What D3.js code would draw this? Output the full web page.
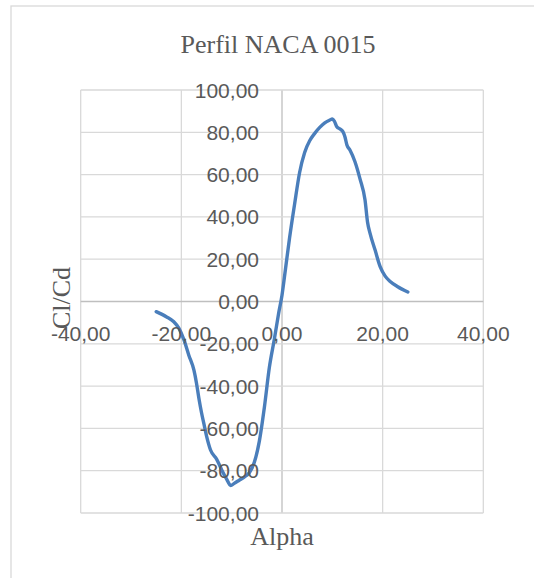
<!DOCTYPE html>
<html>
<head>
<meta charset="utf-8">
<script src="https://cdn.jsdelivr.net/npm/d3@7"></script>
<style>
  html, body { margin: 0; padding: 0; background: #ffffff; }
  svg { display: block; }
</style>
</head>
<body>
<svg id="chart" width="534" height="578"></svg>
<script>
// ---- data ----
const chartTitle = "Perfil NACA 0015";
const xTitle = "Alpha";
const yTitle = "Cl/Cd";
const alpha = [-25, -23, -21.5, -20.5, -19.5, -18.5, -17.5, -17, -16.5, -16, -15.5, -15, -14.2, -13, -12, -11, -10.2, -9.5, -8.5, -7.5, -6.5, -5.5, -4.5, -3.5, -2.5, -1.5, -0.7, 0, 0.7, 1.5, 2.5, 3.5, 4.5, 5.5, 6.5, 7.5, 8.5, 9.5, 10, 10.4, 10.9, 11.5, 12.1, 12.5, 12.9, 13.5, 14.5, 15.5, 16.5, 17, 17.5, 18.5, 19.5, 20.5, 21.5, 23, 25];
const clcd = [-4.8, -7.2, -9.6, -12.6, -18, -25.5, -32.5, -38.5, -46, -52.5, -58, -63.5, -70.2, -74.5, -79.5, -84, -87, -86, -84.5, -83, -81, -76, -66, -50, -31, -17.5, -6, 3, 15.5, 30, 46, 61, 70.5, 76, 79.5, 82.3, 84.5, 85.8, 86.3, 85.3, 82.6, 81.6, 80.3, 77.9, 74, 71.6, 66.1, 58, 48, 37.5, 32.2, 24.3, 16.5, 12, 9.5, 7, 4.5];
const xTicks = [-40, -20, 0, 20, 40];
const yTicks = [-100, -80, -60, -40, -20, 0, 20, 40, 60, 80, 100];

const fmt = v => v.toFixed(2).replace(".", ",");

const svg = d3.select("#chart");

// chart area border
svg.append("rect")
  .attr("x", 11).attr("y", 6).attr("width", 600).attr("height", 600)
  .attr("fill", "#ffffff").attr("stroke", "#d9d9d9").attr("stroke-width", 1.3);

const x = d3.scaleLinear().domain([-40, 40]).range([80.7, 483.3]);
const y = d3.scaleLinear().domain([-100, 100]).range([513, 90]);

// gridlines
const grid = svg.append("g");
grid.selectAll("line.v").data(xTicks).join("line")
  .attr("x1", d => x(d)).attr("x2", d => x(d))
  .attr("y1", y(100)).attr("y2", y(-100))
  .attr("stroke", d => d === 0 ? "#bfbfbf" : "#d9d9d9").attr("stroke-width", 1.3);
grid.selectAll("line.h").data(yTicks).join("line")
  .attr("y1", d => y(d)).attr("y2", d => y(d))
  .attr("x1", x(-40)).attr("x2", x(40))
  .attr("stroke", d => d === 0 ? "#bfbfbf" : "#d9d9d9").attr("stroke-width", 1.3);

// data line
const pts = alpha.map((a, i) => [a, clcd[i]]);
svg.append("path")
  .datum(pts)
  .attr("fill", "none")
  .attr("stroke", "#4a7ebb")
  .attr("stroke-width", 3.4)
  .attr("stroke-linejoin", "round")
  .attr("stroke-linecap", "round")
  .attr("d", d3.line().x(d => x(d[0])).y(d => y(d[1])).curve(d3.curveMonotoneX));

// y tick labels (at the vertical axis crossing x=0)
svg.append("g").selectAll("text").data(yTicks).join("text")
  .attr("x", x(0) - 23)
  .attr("y", d => y(d))
  .attr("dy", "0.36em")
  .attr("text-anchor", "end")
  .attr("font-family", "Liberation Sans, Arial, sans-serif")
  .attr("font-size", 21)
  .attr("fill", "#595959")
  .text(fmt);

// x tick labels (below the horizontal axis at y=0)
svg.append("g").selectAll("text").data(xTicks).join("text")
  .attr("x", d => x(d))
  .attr("y", y(0) + 39.5)
  .attr("text-anchor", "middle")
  .attr("font-family", "Liberation Sans, Arial, sans-serif")
  .attr("font-size", 21)
  .attr("fill", "#595959")
  .text(fmt);

// titles
svg.append("text")
  .attr("x", 278).attr("y", 53)
  .attr("text-anchor", "middle")
  .attr("font-family", "Liberation Serif, Times New Roman, serif")
  .attr("font-size", 26)
  .attr("fill", "#595959")
  .text(chartTitle);

svg.append("text")
  .attr("x", 282).attr("y", 545)
  .attr("text-anchor", "middle")
  .attr("font-family", "Liberation Serif, Times New Roman, serif")
  .attr("font-size", 26)
  .attr("fill", "#595959")
  .text(xTitle);

svg.append("text")
  .attr("transform", "translate(70,298) rotate(-90)")
  .attr("text-anchor", "middle")
  .attr("font-family", "Liberation Serif, Times New Roman, serif")
  .attr("font-size", 26)
  .attr("fill", "#595959")
  .text(yTitle);
</script>
</body>
</html>
